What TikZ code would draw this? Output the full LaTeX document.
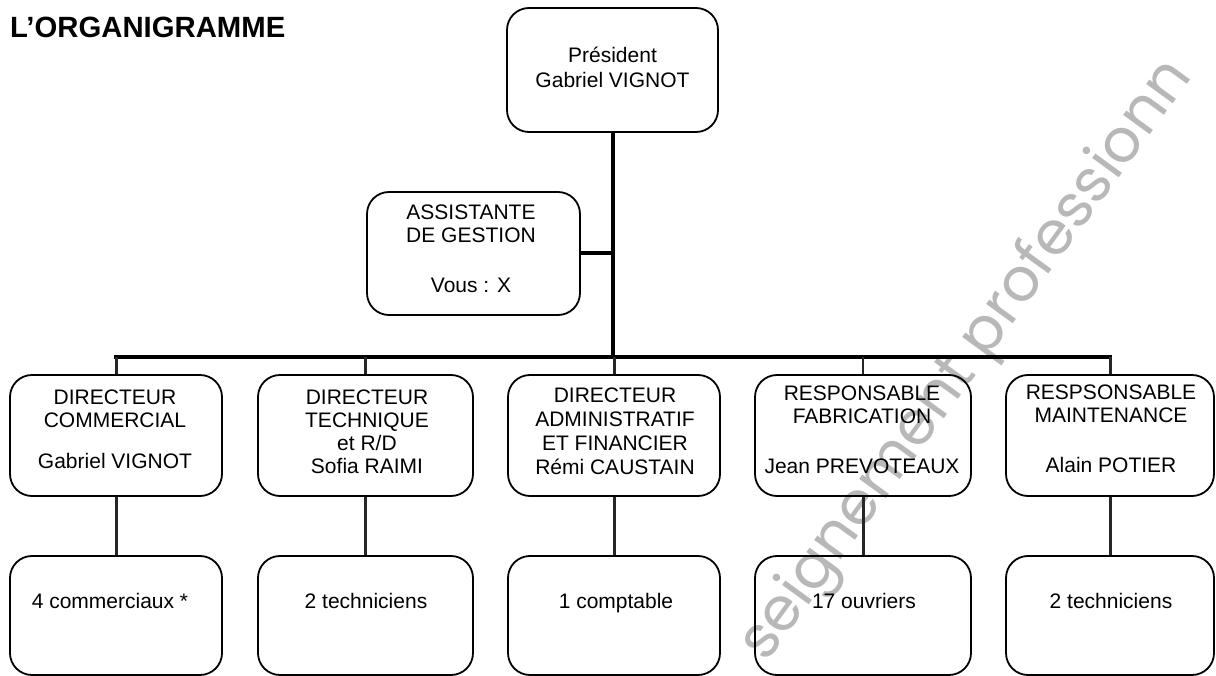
\documentclass[tikz,border=0pt]{standalone}
\usepackage{fontspec}
\setmainfont{Liberation Sans}
\newfontfamily\wmfont{Poppins}
\begin{document}
\begin{tikzpicture}[x=1pt,y=-1pt,
  box/.style={draw=black, line width=1.8pt, rounded corners=22pt, inner sep=0pt},
  txt/.style={inner sep=0pt, align=center, font=\fontsize{21}{23}\selectfont},
  lowtxt/.style={inner sep=0pt, anchor=base, font=\fontsize{21}{23}\selectfont},
  mainline/.style={line width=4pt, draw=black},
  dropline/.style={line width=3pt, draw=black!85}]
\useasboundingbox (0,0) rectangle (1216,676);
\fill[white] (0,0) rectangle (1216,676);

% watermark
\node[rotate=54, anchor=base west, inner sep=0pt, text=black!28,
      font=\wmfont\fontsize{60}{64}\selectfont] (wm) at (766,664) {seignement professionn};

% title
\node[anchor=base west, inner sep=0pt, font=\bfseries\fontsize{29.3}{31}\selectfont] (title) at (10,38) {L’ORGANIGRAMME};

% boxes
\node[box, minimum width=211pt, minimum height=124pt] (pres) at (612.5,70) {};
\node[box, minimum width=213pt, minimum height=123pt] (asst) at (473.5,253.5) {};

\node[box, minimum width=212pt, minimum height=121pt] (b1) at (116,435.5) {};
\node[box, minimum width=215pt, minimum height=121pt] (b2) at (365.5,435.5) {};
\node[box, minimum width=212pt, minimum height=121pt] (b3) at (614,435.5) {};
\node[box, minimum width=216pt, minimum height=121pt] (b4) at (863,435.5) {};
\node[box, minimum width=208pt, minimum height=121pt] (b5) at (1110,435.5) {};

\node[box, minimum width=212pt, minimum height=119pt] (l1) at (116,615.5) {};
\node[box, minimum width=215pt, minimum height=119pt] (l2) at (365.5,615.5) {};
\node[box, minimum width=212pt, minimum height=119pt] (l3) at (614,615.5) {};
\node[box, minimum width=216pt, minimum height=119pt] (l4) at (863,615.5) {};
\node[box, minimum width=208pt, minimum height=119pt] (l5) at (1110,615.5) {};

% texts
\node[txt, anchor=north, font=\fontsize{21}{25}\selectfont] (tpres) at (612.5,47) {Président\\Gabriel VIGNOT};
\node[txt, anchor=north] (tasst) at (471,205) {ASSISTANTE\\DE GESTION\\[27pt]Vous : X};
\node[txt, anchor=north] (tb1) at (115,390) {DIRECTEUR\\COMMERCIAL\\[18pt]Gabriel VIGNOT};
\node[txt, anchor=north] (tb2) at (367,390) {DIRECTEUR\\TECHNIQUE\\et R/D\\Sofia RAIMI};
\node[txt, anchor=north, font=\fontsize{21}{24}\selectfont] (tb3) at (615,388) {DIRECTEUR\\ADMINISTRATIF\\ET FINANCIER\\Rémi CAUSTAIN};
\node[txt, anchor=north] (tb4) at (862,386) {RESPONSABLE\\FABRICATION\\[27pt]Jean PREVOTEAUX};
\node[txt, anchor=north] (tb5) at (1111,385) {RESPSONSABLE\\MAINTENANCE\\[27pt]Alain POTIER};

\node[lowtxt] (tl1) at (110,608) {4 commerciaux *};
\node[lowtxt] (tl2) at (366,608) {2 techniciens};
\node[lowtxt] (tl3) at (616,608) {1 comptable};
\node[lowtxt] (tl4) at (864,608) {17 ouvriers};
\node[lowtxt] (tl5) at (1111,608) {2 techniciens};

% connectors
\coordinate (busM) at (612.5,357);
\draw[mainline] (pres.south) -- (busM);
\draw[mainline] (asst.east) -- (pres.south |- asst.east);
\draw[mainline, line cap=rect] (b1.north |- busM) -- (b5.north |- busM);
\draw[dropline] (b1.north |- busM) -- (b1.north);
\draw[dropline] (b2.north |- busM) -- (b2.north);
\draw[dropline] (b3.north |- busM) -- (b3.north);
\draw[dropline, line width=2pt] (b4.north |- busM) -- (b4.north);
\draw[dropline] (b5.north |- busM) -- (b5.north);

\draw[dropline] (b1.south) -- (l1.north);
\draw[dropline] (b2.south) -- (l2.north);
\draw[dropline] (b3.south) -- (l3.north);
\draw[dropline] (b4.south) -- (l4.north);
\draw[dropline] (b5.south) -- (l5.north);
\end{tikzpicture}
\end{document}
